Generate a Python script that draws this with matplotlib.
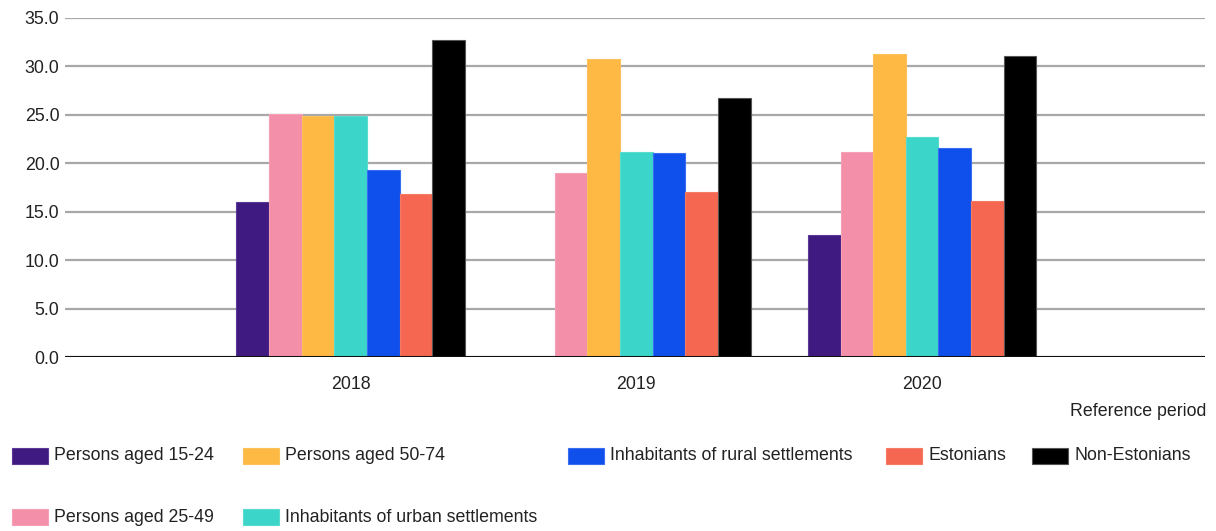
import matplotlib.pyplot as plt
import numpy as np

plt.rcParams['font.family'] = ['Liberation Sans', 'DejaVu Sans']

years = ['2018', '2019', '2020']
series = ['Persons aged 15-24', 'Persons aged 25-49', 'Persons aged 50-74',
          'Inhabitants of urban settlements', 'Inhabitants of rural settlements',
          'Estonians', 'Non-Estonians']
aged_15_24 = [16.0, np.nan, 12.6]
aged_25_49 = [25.1, 19.0, 21.2]
aged_50_74 = [24.9, 30.8, 31.3]
urban = [24.9, 21.2, 22.7]
rural = [19.3, 21.1, 21.6]
estonians = [16.8, 17.0, 16.1]
non_estonians = [32.7, 26.7, 31.1]
values = [aged_15_24, aged_25_49, aged_50_74, urban, rural, estonians, non_estonians]
colors = ['#3f1a80', '#f48fa9', '#fdb944', '#3bd6c9', '#0f4feb', '#f56751', '#000000']
edges = ['#5a3a96', '#f4a0b6', '#fdc15a', '#5adbd0', '#3a6ef0', '#f57a66', '#555555']

# legend layout: (x in px, row) like the original flow legend
legend_pos = [(12, 0), (12, 1), (243, 0), (243, 1), (568, 0), (886, 0), (1032, 0)]

fig = plt.figure(figsize=(12.16, 5.31), dpi=100)
ax = fig.add_axes([65 / 1216, 1 - 357 / 531, 1140 / 1216, 339 / 531])

x = np.arange(len(years))
n = len(series)
w = 0.8 / n
for i, vals in enumerate(values):
    ax.bar(x - 0.4 + w * (i + 0.5), vals, width=w, color=colors[i],
           edgecolor=edges[i], linewidth=0.8, zorder=3)

ax.set_xlim(-1, 2.99)
ax.set_ylim(0, 35)
ax.set_yticks(np.arange(0, 35.1, 5))
ax.set_yticklabels([f'{v:.1f}' for v in np.arange(0, 35.1, 5)])
ax.set_xticks(x)
ax.set_xticklabels(years)
ax.grid(axis='y', color='#a8a8a8', linewidth=1.6, zorder=0)
ax.axhline(0, color='#111111', linewidth=2.2, zorder=4)
for s in ax.spines.values():
    s.set_visible(False)
ax.tick_params(length=0, labelsize=12.8, labelcolor='#222222')
ax.tick_params(axis='y', pad=4)
ax.tick_params(axis='x', pad=14)

fig.text(1206 / 1216, 1 - 412 / 531, 'Reference period', ha='right', va='center',
         fontsize=12.8, color='#222222')

for i, (px, row) in enumerate(legend_pos):
    py = 456 if row == 0 else 517
    fig.patches.append(plt.Rectangle((px / 1216, 1 - (py + 8) / 531), 36 / 1216, 16 / 531,
                                     transform=fig.transFigure, facecolor=colors[i],
                                     edgecolor=edges[i], linewidth=0.8))
    fig.text((px + 42) / 1216, 1 - py / 531, series[i], ha='left', va='center',
             fontsize=12.8, color='#222222')

fig.savefig('out.png', dpi=100)
